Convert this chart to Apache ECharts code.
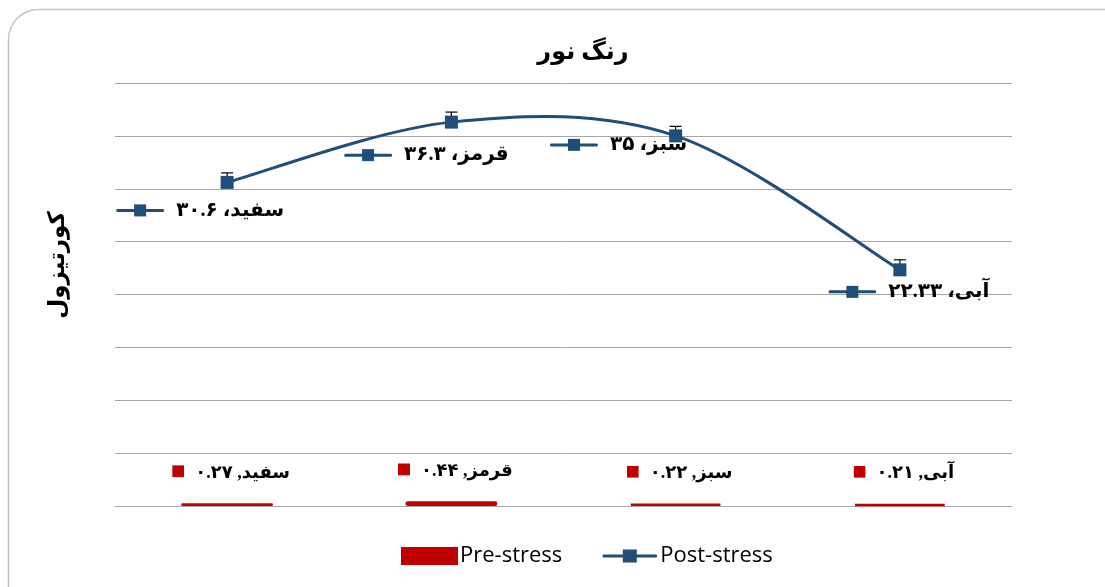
<!DOCTYPE html>
<html>
<head>
<meta charset="utf-8">
<title>رنگ نور</title>
<script src="https://cdn.jsdelivr.net/npm/echarts@6/dist/echarts.min.js"></script>
<style>
  html, body { margin: 0; padding: 0; background: #ffffff; }
  #chart { width: 1105px; height: 587px; }
</style>
</head>
<body>
<div id="chart"></div>
<script>
// Light colour groups
const categories = ['سفید', 'قرمز', 'سبز', 'آبی'];
// Cortisol before stress
const preStress = [0.27, 0.44, 0.22, 0.21];
// Cortisol after stress
const postStress = [30.6, 36.3, 35, 22.33];
// Upper error margin of the post-stress means
const postError = [0.9, 0.95, 0.9, 0.95];
// Value text shown in the labels (Persian digits)
const preLabels = ['۰.۲۷', '۰.۴۴', '۰.۲۲', '۰.۲۱'];
const postLabels = ['۳۰.۶', '۳۶.۳', '۳۵', '۲۲.۳۳'];

const BLUE = '#1f4e79';
const RED = '#c00000';
const FA_FONT = "'Times New Roman', 'Liberation Serif', 'DejaVu Sans', serif";

// where each post-stress label sits relative to its point
const postLabelShift = [[-27, 28], [-25, 33], [-57, 9], [9, 22]];

function svgUri(svg) {
  return 'data:image/svg+xml;charset=utf-8,' + encodeURIComponent(svg);
}
const lineKey = svgUri(
  "<svg xmlns='http://www.w3.org/2000/svg' width='48' height='14'>" +
  "<line x1='1.5' y1='7' x2='46.5' y2='7' stroke='" + BLUE + "' stroke-width='3' stroke-linecap='round'/>" +
  "<rect x='18' y='1' width='12' height='12' fill='" + BLUE + "'/></svg>");
const legendLineKey = svgUri(
  "<svg xmlns='http://www.w3.org/2000/svg' width='55' height='16'>" +
  "<line x1='1.5' y1='8' x2='53.5' y2='8' stroke='" + BLUE + "' stroke-width='3' stroke-linecap='round'/>" +
  "<rect x='20.5' y='1.5' width='14' height='13' fill='" + BLUE + "'/></svg>");
const squareKey = svgUri(
  "<svg xmlns='http://www.w3.org/2000/svg' width='12' height='16'>" +
  "<rect x='0' y='0' width='12' height='12' fill='" + RED + "'/></svg>");

const chart = echarts.init(document.getElementById('chart'));

chart.setOption({
  backgroundColor: '#ffffff',
  animation: false,
  title: {
    text: 'رنگ نور',
    left: 578,
    textAlign: 'center',
    top: 36,
    textStyle: { fontFamily: FA_FONT, fontSize: 24, fontWeight: 'bold', color: '#000' }
  },
  graphic: [
    {
      type: 'rect', z: -10, silent: true,
      shape: { x: 8.5, y: 9.5, width: 1130, height: 620, r: 30 },
      style: { fill: 'none', stroke: '#c4c4c4', lineWidth: 1.5 }
    },
    {
      type: 'text', silent: true,
      x: 58, y: 265, rotation: Math.PI / 2,
      style: {
        text: 'کورتیزول', fontFamily: FA_FONT, fontSize: 23, fontWeight: 'bold',
        fill: '#000', align: 'center', verticalAlign: 'middle'
      }
    }
  ],
  legend: {
    bottom: 15,
    left: 396,
    itemWidth: 55,
    itemHeight: 16,
    itemGap: 40,
    textStyle: { fontFamily: "'Open Sans', sans-serif", fontSize: 22, color: '#000', padding: [0, 0, 0, -2] },
    data: [
      { name: 'Pre-stress', icon: 'rect' },
      { name: 'Post-stress', icon: 'image://' + legendLineKey }
    ]
  },
  grid: { left: 115, right: 93, top: 83, bottom: 81 },
  xAxis: {
    type: 'category',
    data: categories,
    axisLine: { show: true, lineStyle: { color: '#a6a6a6', width: 1 } },
    axisTick: { show: false },
    axisLabel: { show: false }
  },
  yAxis: {
    type: 'value',
    min: 0, max: 40, interval: 5,
    axisLine: { show: false },
    axisTick: { show: false },
    axisLabel: { show: false },
    splitLine: { lineStyle: { color: '#a6a6a6', width: 1 } }
  },
  series: [
    {
      name: 'Pre-stress',
      type: 'bar',
      data: preStress,
      barWidth: '41%',
      itemStyle: { color: RED, borderColor: RED, borderWidth: 2.5, borderRadius: 2 },
      label: {
        show: true,
        position: 'top',
        distance: 21,
        offset: [4, 0],
        formatter: p => '{k|}{t|' + categories[p.dataIndex] + ', ' + preLabels[p.dataIndex] + '}',
        rich: {
          k: { width: 12, height: 16, backgroundColor: { image: squareKey } },
          t: { fontFamily: FA_FONT, fontSize: 18, fontWeight: 'bold', color: '#000', padding: [0, 0, 0, 11] }
        }
      }
    },
    {
      // smooth curve through the post-stress means (cardinal spline)
      name: 'Post-stress',
      type: 'custom',
      z: 4,
      silent: true,
      data: postStress.map((v, i) => [i, v]),
      renderItem: (params, api) => {
        const i = params.dataIndex;
        const n = postStress.length;
        if (i >= n - 1) return null;
        const pt = j => api.coord([Math.max(0, Math.min(n - 1, j)), postStress[Math.max(0, Math.min(n - 1, j))]]);
        const p0 = pt(i - 1), p1 = pt(i), p2 = pt(i + 1), p3 = pt(i + 2);
        const t = 1 / 6;
        return {
          type: 'bezierCurve',
          shape: {
            x1: p1[0], y1: p1[1], x2: p2[0], y2: p2[1],
            cpx1: p1[0] + (p2[0] - p0[0]) * t, cpy1: p1[1] + (p2[1] - p0[1]) * t,
            cpx2: p2[0] - (p3[0] - p1[0]) * t, cpy2: p2[1] - (p3[1] - p1[1]) * t
          },
          style: { stroke: BLUE, lineWidth: 3, fill: null, lineCap: 'round' }
        };
      }
    },
    {
      name: 'Post-stress',
      type: 'line',
      data: postStress.map((v, i) => ({
        value: v,
        label: { offset: postLabelShift[i] }
      })),
      symbol: 'rect',
      symbolSize: 13,
      z: 5,
      lineStyle: { width: 0, opacity: 0 },
      itemStyle: { color: BLUE },
      label: {
        show: true,
        position: 'inside',
        formatter: p => '{k|}{t|' + categories[p.dataIndex] + '، ' + postLabels[p.dataIndex] + '}',
        rich: {
          k: { width: 48, height: 14, backgroundColor: { image: lineKey } },
          t: { fontFamily: FA_FONT, fontSize: 20, fontWeight: 'bold', color: '#000', padding: [0, 0, 0, 12] }
        }
      }
    },
    {
      name: 'Post-stress error',
      type: 'custom',
      z: 3,
      silent: true,
      data: postStress.map((v, i) => [i, v, v + postError[i]]),
      renderItem: (params, api) => {
        const lo = api.coord([api.value(0), api.value(1)]);
        const hi = api.coord([api.value(0), api.value(2)]);
        const cap = 6;
        return {
          type: 'group',
          children: [
            { type: 'line', shape: { x1: lo[0], y1: lo[1], x2: hi[0], y2: hi[1] }, style: { stroke: '#000', lineWidth: 1.2 } },
            { type: 'line', shape: { x1: hi[0] - cap, y1: hi[1], x2: hi[0] + cap, y2: hi[1] }, style: { stroke: '#000', lineWidth: 1.2 } }
          ]
        };
      }
    }
  ]
});
</script>
</body>
</html>
